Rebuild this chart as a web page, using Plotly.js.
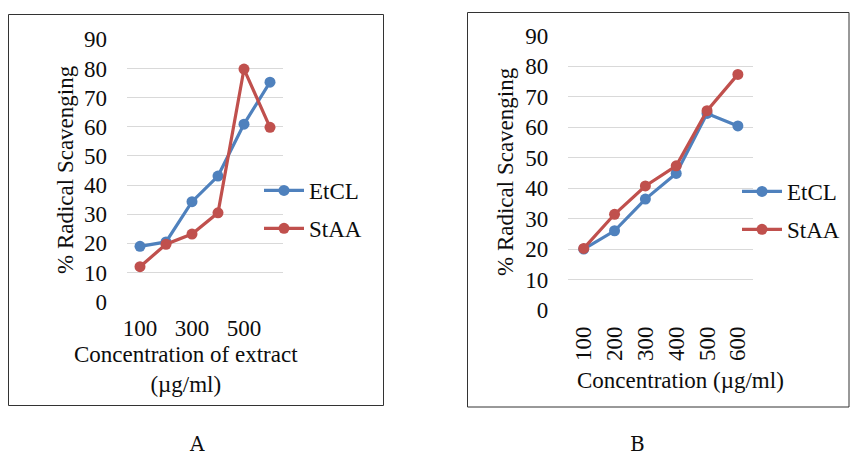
<!DOCTYPE html>
<html>
<head>
<meta charset="utf-8">
<script src="https://cdn.plot.ly/plotly-3.0.1.min.js"></script>
<style>html,body{margin:0;padding:0;background:#fff;}#chart{width:850px;height:455px;}</style>
</head>
<body>
<div id="chart"></div>
<script>
// ---- data ----
const categories = ['100', '200', '300', '400', '500', '600'];
const etclA = [19, 20.5, 34.3, 43.1, 60.9, 75.3];
const staaA = [12, 19.7, 23.2, 30.5, 79.8, 59.8];
const etclB = [20, 26, 36.4, 44.8, 64.5, 60.4];
const staaB = [20.2, 31.4, 40.7, 47.3, 65.4, 77.3];
const yTickValues = [0, 10, 20, 30, 40, 50, 60, 70, 80, 90];
const xTickLabelsA = ['100', '300', '500'];
const seriesNames = ['EtCL', 'StAA'];
const panelLabels = ['A', 'B'];
const xTitleA = 'Concentration of extract<br>(µg/ml)';
const xTitleB = 'Concentration (µg/ml)';
const yTitle = '% Radical Scavenging';

// ---- styles ----
const W = 850, H = 455;
const FONT = '"Liberation Serif", "Times New Roman", serif';
const FS = 23;
const TXT = '#0d0d0d';
const BLUE = '#4F81BD', RED = '#C0504D';
const px = v => v / W;
const py = v => 1 - v / H;

function tr(x, y, name, color, xa, ya, legend, group) {
  return {
    type: 'scatter', mode: 'lines+markers', x: x, y: y, name: name,
    xaxis: xa, yaxis: ya, legend: legend, legendgroup: group,
    line: {color: color, width: 3.2},
    marker: {color: color, size: 11, symbol: 'circle'}
  };
}

const data = [
  tr(categories, etclA, seriesNames[0], BLUE, 'x', 'y', 'legend', 'a1'),
  tr(categories, staaA, seriesNames[1], RED, 'x', 'y', 'legend', 'a2'),
  tr(categories, etclB, seriesNames[0], BLUE, 'x2', 'y2', 'legend2', 'b1'),
  tr(categories, staaB, seriesNames[1], RED, 'x2', 'y2', 'legend2', 'b2')
];

const yax = (dom, anchor) => ({
  domain: dom, anchor: anchor, range: [0, 90], tickvals: yTickValues,
  showgrid: true, gridcolor: '#d9d9d9', gridwidth: 1, zeroline: false,
  showline: false, ticks: '', ticklabelstandoff: 19,
  tickfont: {family: FONT, size: FS, color: TXT}, fixedrange: true
});

const legendCommon = {
  font: {family: FONT, size: FS, color: TXT},
  bgcolor: 'rgba(0,0,0,0)', borderwidth: 0,
  xanchor: 'left', yanchor: 'top', tracegroupgap: 5, itemwidth: 40
};

const layout = {
  width: W, height: H,
  margin: {l: 0, r: 0, t: 0, b: 0},
  paper_bgcolor: '#fff', plot_bgcolor: 'rgba(0,0,0,0)',
  font: {family: FONT, color: TXT},
  xaxis: {
    domain: [px(127), px(283)], anchor: 'y', type: 'category',
    categoryorder: 'array', categoryarray: categories,
    range: [-0.5, 5.5], tickvals: xTickLabelsA, ticktext: xTickLabelsA,
    showgrid: false, zeroline: false, showline: false, ticks: '',
    ticklabelstandoff: 10, tickangle: 0,
    tickfont: {family: FONT, size: FS, color: TXT}, fixedrange: true
  },
  yaxis: yax([py(301.7), py(39.3)], 'x'),
  xaxis2: {
    domain: [px(568.3), px(753.3)], anchor: 'y2', type: 'category',
    categoryorder: 'array', categoryarray: categories,
    range: [-0.5, 5.5], tickvals: categories,
    showgrid: false, zeroline: false, showline: false, ticks: '',
    ticklabelstandoff: 11, tickangle: -90,
    tickfont: {family: FONT, size: FS, color: TXT}, fixedrange: true
  },
  yaxis2: yax([py(310), py(35.7)], 'x2'),
  showlegend: true,
  legend: Object.assign({}, legendCommon, {x: px(259), y: py(169)}),
  legend2: Object.assign({}, legendCommon, {x: px(737), y: py(170)}),
  shapes: [
    {type: 'rect', xref: 'paper', yref: 'paper', x0: px(8.5), x1: px(383.5), y0: py(405.5), y1: py(14.5),
     line: {color: '#333333', width: 1}},
    {type: 'rect', xref: 'paper', yref: 'paper', x0: px(467.5), x1: px(849), y0: py(407), y1: py(12.5),
     line: {color: '#333333', width: 1}}
  ],
  annotations: [
    {xref: 'paper', yref: 'paper', x: px(186), y: py(369), text: xTitleA, showarrow: false,
     font: {family: FONT, size: FS, color: TXT}, xanchor: 'center', yanchor: 'middle', align: 'center'},
    {xref: 'paper', yref: 'paper', x: px(65), y: py(170), text: yTitle, textangle: -90, showarrow: false,
     font: {family: FONT, size: FS, color: TXT}, xanchor: 'center', yanchor: 'middle'},
    {xref: 'paper', yref: 'paper', x: px(680), y: py(380), text: xTitleB, showarrow: false,
     font: {family: FONT, size: FS, color: TXT}, xanchor: 'center', yanchor: 'middle'},
    {xref: 'paper', yref: 'paper', x: px(505), y: py(172), text: yTitle, textangle: -90, showarrow: false,
     font: {family: FONT, size: FS, color: TXT}, xanchor: 'center', yanchor: 'middle'},
    {xref: 'paper', yref: 'paper', x: px(197), y: py(444), text: panelLabels[0], showarrow: false,
     font: {family: 'DejaVu Serif, serif', size: 20, color: TXT}, xanchor: 'center', yanchor: 'middle'},
    {xref: 'paper', yref: 'paper', x: px(637), y: py(444), text: panelLabels[1], showarrow: false,
     font: {family: 'DejaVu Serif, serif', size: 20, color: TXT}, xanchor: 'center', yanchor: 'middle'}
  ]
};

Plotly.newPlot('chart', data, layout, {displayModeBar: false, staticPlot: true});
</script>
</body>
</html>
